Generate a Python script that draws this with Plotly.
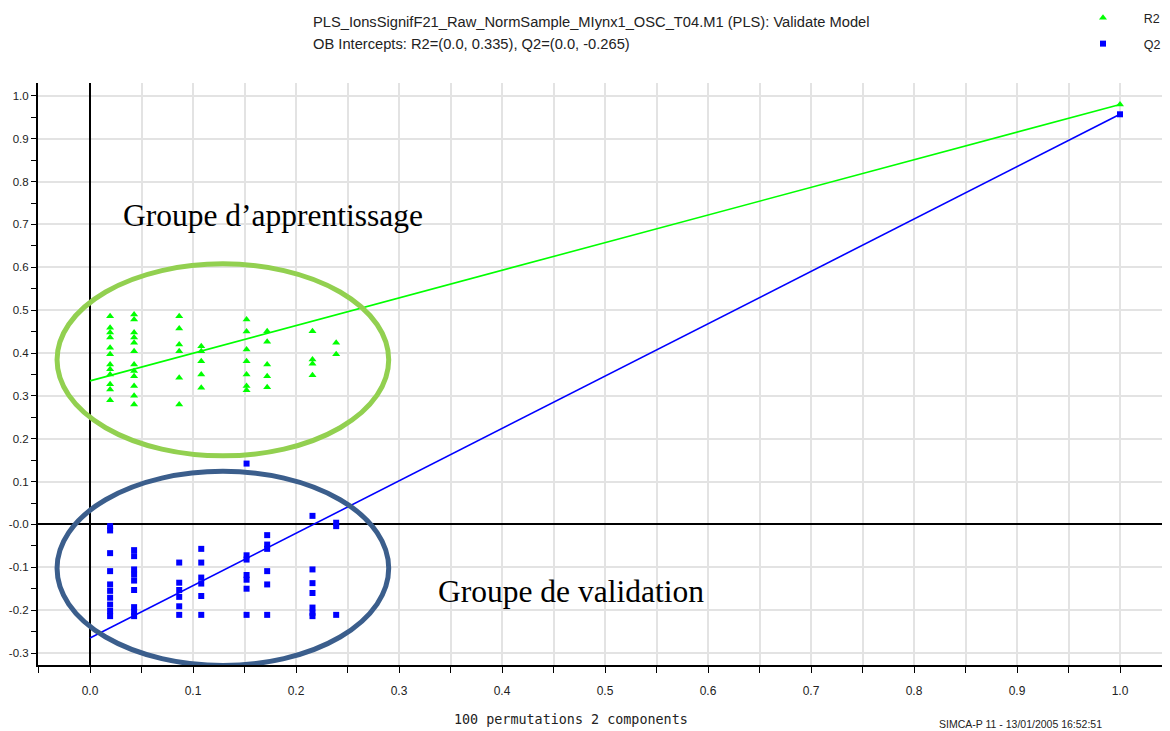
import plotly.graph_objects as go

# ---------------- data ----------------
perm_corr = [0.0195, 0.0428, 0.0866, 0.108, 0.152, 0.172, 0.216, 0.239]

r2_perm = [
    [0.486, 0.459, 0.448, 0.436, 0.412, 0.397, 0.373, 0.362, 0.350, 0.327, 0.315, 0.290],
    [0.490, 0.478, 0.448, 0.436, 0.424, 0.404, 0.373, 0.358, 0.346, 0.323, 0.300, 0.280],
    [0.486, 0.457, 0.420, 0.404, 0.342, 0.280],
    [0.416, 0.404, 0.381, 0.350, 0.319],
    [0.478, 0.450, 0.408, 0.381, 0.350, 0.323, 0.313],
    [0.451, 0.426, 0.373, 0.346, 0.320],
    [0.451, 0.385, 0.375, 0.348],
    [0.424, 0.397],
]

q2_perm = [
    [-0.004, -0.014, -0.067, -0.109, -0.140, -0.155, -0.171, -0.187, -0.202, -0.214],
    [-0.060, -0.074, -0.105, -0.117, -0.131, -0.153, -0.193, -0.204, -0.214],
    [-0.089, -0.136, -0.153, -0.169, -0.191, -0.211],
    [-0.057, -0.089, -0.124, -0.138, -0.167, -0.211],
    [0.142, -0.072, -0.082, -0.118, -0.129, -0.150, -0.211],
    [-0.025, -0.047, -0.057, -0.109, -0.140, -0.211],
    [0.020, -0.105, -0.137, -0.160, -0.194, -0.206, -0.214],
    [0.004, -0.004, -0.211],
]

orig_corr = 1.0
r2_orig = 0.980
q2_orig = 0.957
r2_intercept = 0.335
q2_intercept = -0.265

x_ticks = [0.0, 0.1, 0.2, 0.3, 0.4, 0.5, 0.6, 0.7, 0.8, 0.9, 1.0]
x_ticktext = ["0.0", "0.1", "0.2", "0.3", "0.4", "0.5", "0.6", "0.7", "0.8", "0.9", "1.0"]
y_ticks = [1.0, 0.9, 0.8, 0.7, 0.6, 0.5, 0.4, 0.3, 0.2, 0.1, 0.0, -0.1, -0.2, -0.3]
y_ticktext = ["1.0", "0.9", "0.8", "0.7", "0.6", "0.5", "0.4", "0.3", "0.2", "0.1", "-0.0", "-0.1", "-0.2", "-0.3"]

title_line1 = "PLS_IonsSignifF21_Raw_NormSample_MIynx1_OSC_T04.M1 (PLS): Validate Model"
title_line2 = "OB Intercepts: R2=(0.0, 0.335), Q2=(0.0, -0.265)"
x_title = "100 permutations 2 components"
footer = "SIMCA-P 11 - 13/01/2005 16:52:51"
label_train = "Groupe d\u2019apprentissage"
label_valid = "Groupe de validation"
legend_names = ["R2", "Q2"]

GREEN = "#00ff00"
BLUE = "#0000ff"

# expand columns
r2_x, r2_y, q2_x, q2_y = [], [], [], []
for cx, col in zip(perm_corr, r2_perm):
    for v in col:
        r2_x.append(cx); r2_y.append(v)
for cx, col in zip(perm_corr, q2_perm):
    for v in col:
        q2_x.append(cx); q2_y.append(v)

PAD = "\u00a0" * 6

# the page body adds an 8 px margin; the figure is sized so that it fills the rest
FIG_W, FIG_H = 1162, 723

fig = go.Figure()

# regression lines
fig.add_trace(go.Scatter(x=[0.0, orig_corr], y=[r2_intercept, r2_orig], mode="lines",
                         line=dict(color=GREEN, width=1.6), showlegend=False, hoverinfo="skip"))
fig.add_trace(go.Scatter(x=[0.0, orig_corr], y=[q2_intercept, q2_orig], mode="lines",
                         line=dict(color=BLUE, width=1.6), showlegend=False, hoverinfo="skip"))

# permutation points + original model
fig.add_trace(go.Scatter(x=r2_x + [orig_corr], y=r2_y + [r2_orig], mode="markers",
                         name=PAD + legend_names[0], legend="legend",
                         marker=dict(symbol="triangle-up", size=7, color=GREEN, line=dict(width=0))))
fig.add_trace(go.Scatter(x=q2_x + [orig_corr], y=q2_y + [q2_orig], mode="markers",
                         name=PAD + legend_names[1], legend="legend2",
                         marker=dict(symbol="square", size=6, color=BLUE, line=dict(width=0))))

axis_font = dict(family="Liberation Sans, Arial, sans-serif", size=12, color="#222222")

fig.update_xaxes(
    range=[-0.0505, 1.0466], tickvals=x_ticks, ticktext=x_ticktext, automargin=False,
    showgrid=True, gridcolor="#e3e3e3", gridwidth=2,
    minor=dict(dtick=0.05, tick0=0, showgrid=True, gridcolor="#e3e3e3", gridwidth=2,
               ticks="outside", ticklen=6, tickcolor="black", tickwidth=1),
    ticks="outside", ticklen=6, tickcolor="black", tickwidth=1,
    showline=True, linecolor="black", linewidth=2,
    zeroline=True, zerolinecolor="black", zerolinewidth=2,
    tickfont=axis_font, ticklabelstandoff=8,
)
fig.update_yaxes(
    range=[-0.328, 1.03], tickvals=y_ticks, ticktext=y_ticktext, automargin=False,
    showgrid=True, gridcolor="#e3e3e3", gridwidth=2,
    minor=dict(dtick=0.05, tick0=0, showgrid=False,
               ticks="outside", ticklen=5, tickcolor="black", tickwidth=1),
    ticks="outside", ticklen=5, tickcolor="black", tickwidth=1,
    showline=True, linecolor="black", linewidth=2,
    zeroline=True, zerolinecolor="black", zerolinewidth=2,
    tickfont=dict(family="Liberation Sans, Arial, sans-serif", size=11.5, color="#222222"),
    ticklabelstandoff=0,
)

# ellipses (annotation overlays)
fig.add_shape(type="circle", xref="x", yref="y", x0=-0.032, x1=0.290, y0=0.160, y1=0.608,
              line=dict(color="#92d050", width=5), layer="above")
fig.add_shape(type="circle", xref="x", yref="y", x0=-0.032, x1=0.290, y0=-0.329, y1=0.124,
              line=dict(color="#3b5e8c", width=5), layer="above")

serif = dict(family="Liberation Serif, Times New Roman, serif", size=31.5, color="black")
fig.add_annotation(x=0.178, y=0.722, xref="x", yref="y", text=label_train, showarrow=False, font=serif)
fig.add_annotation(x=0.467, y=-0.157, xref="x", yref="y", text=label_valid, showarrow=False, font=serif)

# paper coords: page pixel -> paper (plot area spans page x 38..1168, y 83..665)
title_font = dict(family="Liberation Sans, Arial, sans-serif", size=14.7, color="#222222")
fig.add_annotation(x=(311 - 38) / 1130, y=(665 - 22) / 582, xref="paper", yref="paper",
                   text=title_line1, showarrow=False, xanchor="left", yanchor="middle", font=title_font)
fig.add_annotation(x=(311 - 38) / 1130, y=(665 - 44) / 582, xref="paper", yref="paper",
                   text=title_line2, showarrow=False, xanchor="left", yanchor="middle", font=title_font)
fig.add_annotation(x=(571 - 38) / 1130, y=(665 - 719) / 582, xref="paper", yref="paper",
                   text=x_title, showarrow=False, xanchor="center", yanchor="middle",
                   font=dict(family="DejaVu Sans Mono, monospace", size=13.4, color="#222222"))
fig.add_annotation(x=(1104 - 38) / 1130, y=(665 - 724) / 582, xref="paper", yref="paper",
                   text=footer, showarrow=False, xanchor="right", yanchor="middle",
                   font=dict(family="Liberation Sans Narrow, Liberation Sans, sans-serif", size=10.5, color="#222222"))

leg_font = dict(family="Liberation Sans, Arial, sans-serif", size=12.5, color="#222222")
fig.update_layout(
    width=FIG_W, height=FIG_H,
    margin=dict(l=30, r=2, t=75, b=66, autoexpand=False),
    paper_bgcolor="white", plot_bgcolor="white",
    showlegend=True,
    legend=dict(xref="container", yref="container", x=1075 / FIG_W, xanchor="left",
                y=1 - 10 / FIG_H, yanchor="middle", bgcolor="rgba(0,0,0,0)", font=leg_font,
                borderwidth=0),
    legend2=dict(xref="container", yref="container", x=1075 / FIG_W, xanchor="left",
                 y=1 - 36 / FIG_H, yanchor="middle", bgcolor="rgba(0,0,0,0)", font=leg_font,
                 borderwidth=0),
)

fig.write_html("out.html")
